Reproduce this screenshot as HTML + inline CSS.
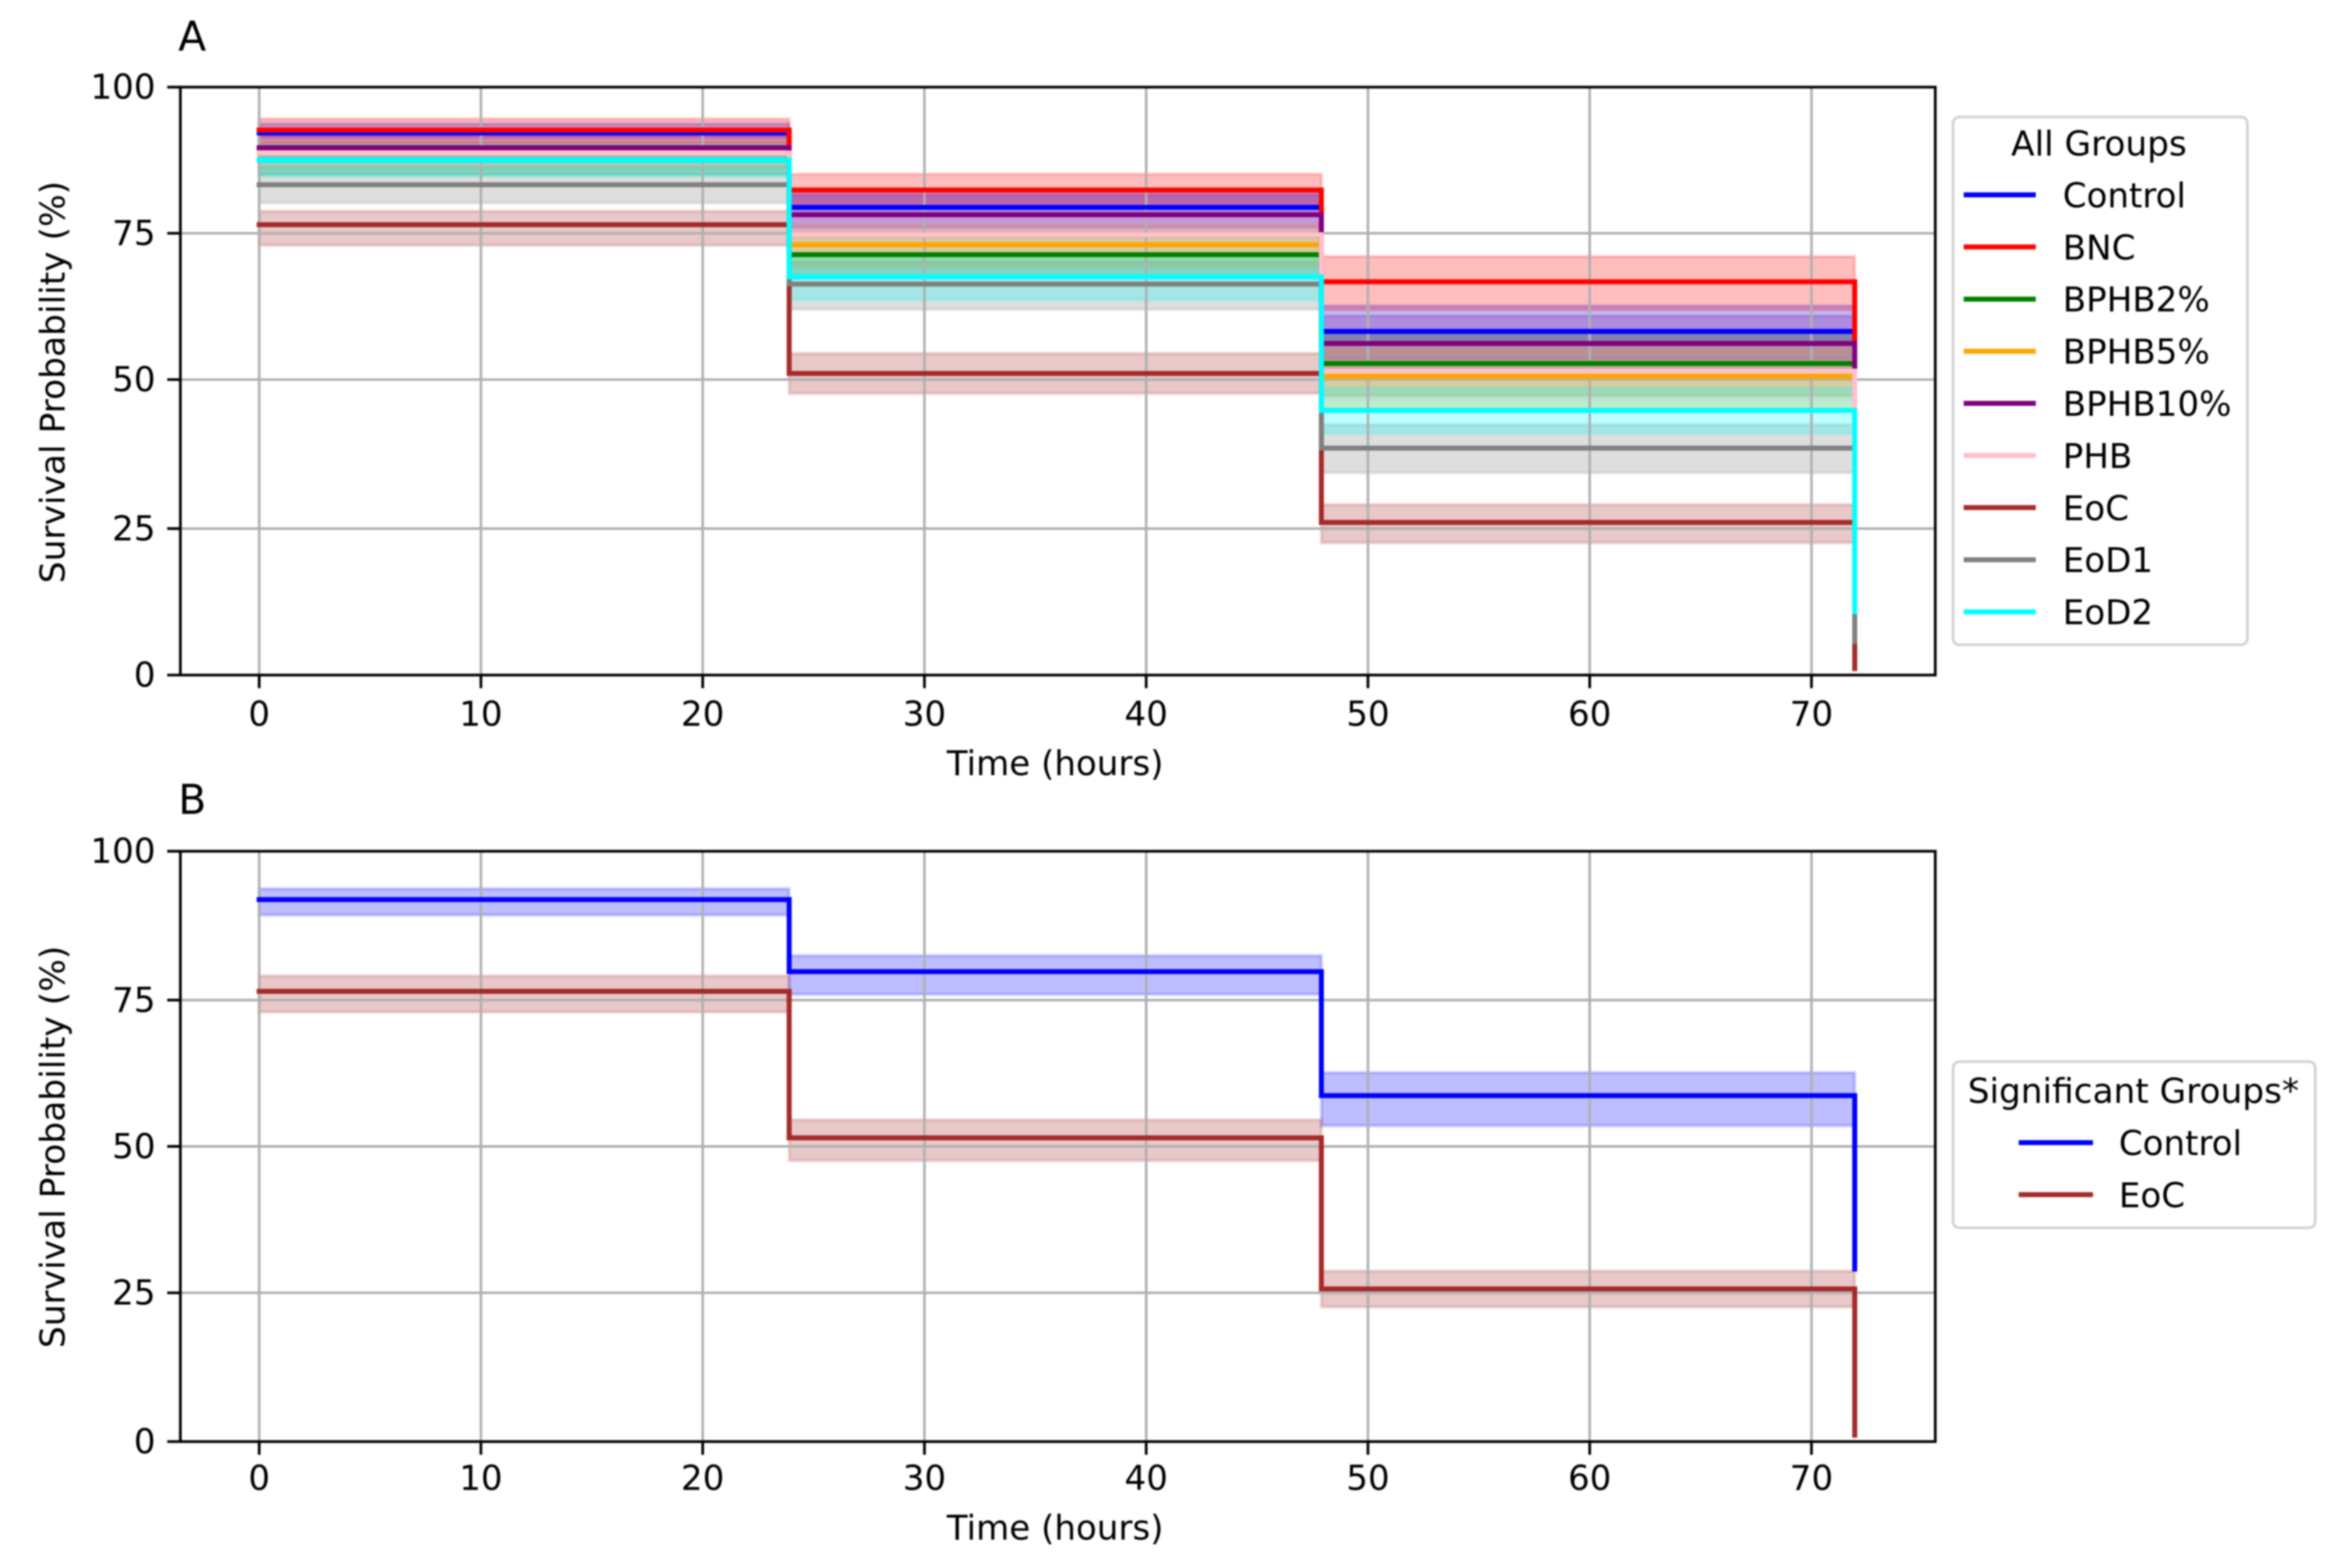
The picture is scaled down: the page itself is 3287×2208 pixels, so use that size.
<!DOCTYPE html>
<html lang="en">
<head>
<meta charset="utf-8">
<title>Survival probability over time</title>
<style>
html,body{margin:0;padding:0;background:#fff;width:3287px;height:2208px;overflow:hidden}
svg{display:block;filter:blur(1px)}
text{font-family:"DejaVu Sans","Liberation Sans",sans-serif;fill:#000}
</style>
</head>
<body>
<svg id="figure" xmlns="http://www.w3.org/2000/svg" width="3287" height="2208" viewBox="0 0 3287 2208">
<rect x="0" y="0" width="3287" height="2208" fill="#fff"/>
</svg>
<script>
// ---- chart data ----
const stepTimes = [0, 23.9, 47.9, 71.95];
const xTickLabels = [0, 10, 20, 30, 40, 50, 60, 70];
const yTickLabels = [0, 25, 50, 75, 100];

// Panel A readings
const controlSurvival = [92.16, 79.44, 58.23, 29.02];
const controlUpper = [93.75, 82.4, 62.6];
const controlLower = [89.3, 75.95, 53.5];

const bncSurvival = [92.66, 82.4, 66.72, 34.94];
const bncUpper = [94.58, 85.13, 71.05];
const bncLower = [90.44, 79.37, 61.88];

const bphb2Survival = [87.53, 71.34, 52.75, 22.07];
const bphb2Upper = [90.16, 74.97, 57.99];
const bphb2Lower = [85.01, 67.41, 47.27];

const bphb5Survival = [88.74, 73.05, 50.54, 20.07];
const bphb5Upper = [91.06, 76.58, 55.48];
const bphb5Lower = [86.21, 69.32, 45.1];

const bphb10Survival = [89.64, 78.18, 56.17, 30.01];
const bphb10Upper = [91.97, 81.61, 60.9];
const bphb10Lower = [87.22, 74.44, 51.44];

const phbSurvival = [88.74, 74.76, 51.45, 25.08];
const phbUpper = [91.06, 78.39, 56.28];
const phbLower = [86.21, 71.03, 46.58];

const eocSurvival = [76.47, 51.04, 26.03, 1.1];
const eocUpper = [78.8, 54.47, 29.03];
const eocLower = [72.94, 47.66, 22.56];

const eod1Survival = [83.31, 66.32, 38.5, 5.72];
const eod1Upper = [86.44, 70.15, 42.45];
const eod1Lower = [80.18, 61.99, 34.35];

const eod2Survival = [87.53, 67.57, 44.81, 10.8];
const eod2Upper = [90.06, 70.75, 48.66];
const eod2Lower = [84.8, 63.59, 40.96];

// Panel B readings
const sigControlSurvival = [91.89, 79.77, 58.69, 29.06];
const sigControlUpper = [93.71, 82.47, 62.61];
const sigControlLower = [89.28, 75.95, 53.52];

const sigEocSurvival = [76.47, 51.46, 25.67, 1.07];
const sigEocUpper = [79.08, 54.56, 28.73];
const sigEocLower = [72.94, 47.57, 22.61];

const allGroups = [
  {key:'control', label:'Control', color:'#0000ff', s:controlSurvival, u:controlUpper, l:controlLower},
  {key:'bnc', label:'BNC', color:'#ff0000', s:bncSurvival, u:bncUpper, l:bncLower},
  {key:'bphb2', label:'BPHB2%', color:'#008000', s:bphb2Survival, u:bphb2Upper, l:bphb2Lower},
  {key:'bphb5', label:'BPHB5%', color:'#ffa500', s:bphb5Survival, u:bphb5Upper, l:bphb5Lower},
  {key:'bphb10', label:'BPHB10%', color:'#800080', s:bphb10Survival, u:bphb10Upper, l:bphb10Lower},
  {key:'phb', label:'PHB', color:'#ffc0cb', s:phbSurvival, u:phbUpper, l:phbLower},
  {key:'eoc', label:'EoC', color:'#a52a2a', s:eocSurvival, u:eocUpper, l:eocLower},
  {key:'eod1', label:'EoD1', color:'#808080', s:eod1Survival, u:eod1Upper, l:eod1Lower},
  {key:'eod2', label:'EoD2', color:'#00ffff', s:eod2Survival, u:eod2Upper, l:eod2Lower}
];
const significantGroups = [
  {key:'control', label:'Control', color:'#0000ff', s:sigControlSurvival, u:sigControlUpper, l:sigControlLower},
  {key:'eoc', label:'EoC', color:'#a52a2a', s:sigEocSurvival, u:sigEocUpper, l:sigEocLower}
];

// ---- layout ----
const NS = 'http://www.w3.org/2000/svg';
const svg = document.getElementById('figure');
const AX_LEFT = 254, AX_RIGHT = 2725.5;
const xScale = t => 365 + 31.23 * t;

function mk(tag, attrs, parent, txt) {
  const el = document.createElementNS(NS, tag);
  for (const k in attrs) el.setAttribute(k, attrs[k]);
  if (txt !== undefined) el.textContent = txt;
  parent.appendChild(el);
  return el;
}

// Piecewise axis: the reference's pixel rows are slightly uneven between ticks.
function makeYScale(calibration) {
  return v => {
    let i = 0;
    while (i < yTickLabels.length - 2 && v > yTickLabels[i + 1]) i++;
    const f = (v - yTickLabels[i]) / (yTickLabels[i + 1] - yTickLabels[i]);
    return calibration[i] + (calibration[i + 1] - calibration[i]) * f;
  };
}

function stepLine(g, yScale) {
  let d = 'M' + xScale(stepTimes[0]) + ' ' + yScale(g.s[0]);
  for (let i = 1; i < stepTimes.length; i++) {
    d += 'H' + xScale(stepTimes[i]) + 'V' + yScale(g.s[i]);
  }
  return d;
}

function bandPath(g, yScale) {
  let d = 'M' + xScale(stepTimes[0]) + ' ' + yScale(g.u[0]);
  for (let i = 0; i < g.u.length; i++) {
    d += 'V' + yScale(g.u[i]) + 'H' + xScale(stepTimes[i + 1]);
  }
  for (let i = g.l.length - 1; i >= 0; i--) {
    d += 'V' + yScale(g.l[i]) + 'H' + xScale(stepTimes[i]);
  }
  return d + 'Z';
}

function drawPanel(panelName, letter, calibration, xLabelOffset, xTitleY, yTitleMid, titleY, groups) {
  const yScale = makeYScale(calibration);
  const bottom = calibration[0];
  const top = calibration[calibration.length - 1];
  const root = mk('g', {}, svg);
  
  

  // confidence bands
  groups.forEach(g => {
    const band = mk('path', {d:bandPath(g, yScale), fill:g.color, 'fill-opacity':0.26, stroke:g.color, 'stroke-opacity':0.16, 'stroke-width':4.8, 'stroke-linejoin':'miter'}, root);
    
    
  });

  // grid
  xTickLabels.forEach(t => {
    const line = mk('line', {x1:xScale(t), x2:xScale(t), y1:top, y2:bottom, stroke:'#b0b0b0', 'stroke-width':3.6}, root);
    
    
  });
  yTickLabels.forEach(v => {
    const line = mk('line', {x1:AX_LEFT, x2:AX_RIGHT, y1:yScale(v), y2:yScale(v), stroke:'#b0b0b0', 'stroke-width':3.6}, root);
    
    
  });

  // survival step lines
  groups.forEach(g => {
    const line = mk('path', {d:stepLine(g, yScale), fill:'none', stroke:g.color, 'stroke-width':7, 'stroke-linecap':'square', 'stroke-linejoin':'miter'}, root);
    
    
  });

  // axes frame
  const frame = mk('rect', {x:AX_LEFT, y:top, width:AX_RIGHT - AX_LEFT, height:bottom - top, fill:'none', stroke:'#000', 'stroke-width':3.8}, root);
  
  

  // ticks and labels
  xTickLabels.forEach(t => {
    const tick = mk('line', {x1:xScale(t), x2:xScale(t), y1:bottom, y2:bottom + 18.5, stroke:'#000', 'stroke-width':3.8}, root);
    
    
    const lab = mk('text', {x:xScale(t), y:bottom + xLabelOffset, 'font-size':48, 'text-anchor':'middle'}, root, String(t));
    
    
  });
  yTickLabels.forEach(v => {
    const tick = mk('line', {x1:AX_LEFT - 18.5, x2:AX_LEFT, y1:yScale(v), y2:yScale(v), stroke:'#000', 'stroke-width':3.8}, root);
    
    
    const lab = mk('text', {x:219, y:yScale(v) + 16.5, 'font-size':48, 'text-anchor':'end'}, root, String(v));
    
    
  });

  const xTitle = mk('text', {x:1486, y:xTitleY, 'font-size':48, 'text-anchor':'middle'}, root, 'Time (hours)');
  
  

  const yTitle = mk('text', {x:0, y:0, 'font-size':48.5, 'text-anchor':'middle', transform:'translate(91 ' + yTitleMid + ') rotate(-90)'}, root, 'Survival Probability (%)');
  
  

  const title = mk('text', {x:AX_LEFT - 3, y:titleY, 'font-size':57.6}, root, letter);
  
  
}

function drawLegend(legendName, box, titleText, titleX, titleY, rowStart, rowStep, handleX1, handleX2, textX, groups) {
  const root = mk('g', {}, svg);
  
  
  const frame = mk('rect', {x:box[0], y:box[1], width:box[2] - box[0], height:box[3] - box[1], rx:9, ry:9, fill:'#fff', stroke:'#d2d2d2', 'stroke-width':3.8}, root);
  
  
  const t = mk('text', {x:titleX, y:titleY, 'font-size':48.3, 'text-anchor':'middle'}, root, titleText);
  
  
  groups.forEach((g, i) => {
    const y = rowStart + rowStep * i;
    const handle = mk('line', {x1:handleX1, x2:handleX2, y1:y, y2:y, stroke:g.color, 'stroke-width':7}, root);
    
    
    const lab = mk('text', {x:textX, y:y + 17.5, 'font-size':48}, root, g.label);
    
    
  });
}

drawPanel('a-all-groups', 'A', [950.6, 744.3, 534.5, 328.5, 122.7], 71.5, 1091.7, 538, 71.7, allGroups);
drawPanel('b-significant-groups', 'B', [2030, 1820.5, 1614.3, 1408.3, 1198.7], 68, 2168, 1615, 1146, significantGroups);
drawLegend('all-groups', [2750.5, 164.7, 3165, 908], 'All Groups', 2956, 219, 274.4, 73.4, 2765.5, 2867, 2905, allGroups);
drawLegend('significant-groups', [2750.5, 1495, 3260.6, 1729], 'Significant Groups*', 3004.5, 1553, 1609, 73.3, 2843, 2947.6, 2984, significantGroups);
</script>
</body>
</html>
